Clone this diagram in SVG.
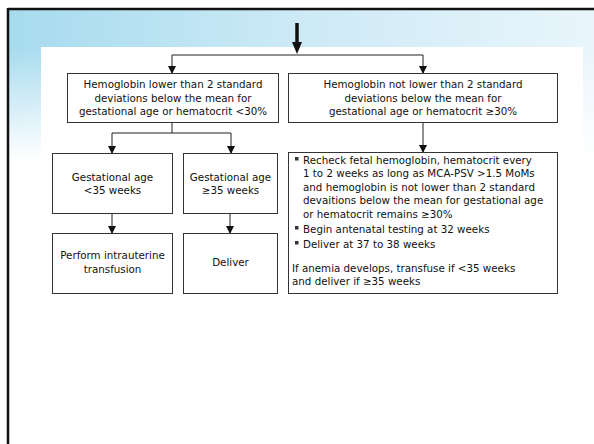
<svg xmlns="http://www.w3.org/2000/svg" width="594" height="444" viewBox="0 0 594 444">
<defs>
<linearGradient id="bgH" x1="0" y1="0" x2="1" y2="0">
<stop offset="0" stop-color="#a6dbee"/>
<stop offset="0.5" stop-color="#cdeaf6"/>
<stop offset="1" stop-color="#e9f5fb"/>
</linearGradient>
<linearGradient id="fadeV" x1="0" y1="0" x2="0" y2="1">
<stop offset="0" stop-color="#ffffff" stop-opacity="0"/>
<stop offset="1" stop-color="#ffffff" stop-opacity="1"/>
</linearGradient>
<marker id="ah" markerWidth="8" markerHeight="8" refX="7" refY="4" orient="auto" markerUnits="userSpaceOnUse">
<path d="M0,0 L8,4 L0,8 Z" fill="#111"/>
</marker>
<style>
.box{fill:#fff;stroke:#333;stroke-width:1}
.t{font-family:"DejaVu Sans","Liberation Sans",sans-serif;font-size:10.3px;fill:#111}
.c{text-anchor:middle}
.ln{fill:none;stroke:#222;stroke-width:1}
</style>
</defs>
<rect x="0" y="0" width="594" height="444" fill="#fff"/>
<rect x="9" y="10" width="585" height="150" fill="url(#bgH)"/>
<rect x="9" y="47" width="585" height="113" fill="url(#fadeV)"/>
<rect x="41" y="47" width="542" height="397" fill="#fff"/>
<line x1="8" y1="9" x2="594" y2="9" stroke="#111" stroke-width="2.5"/>
<line x1="8" y1="8" x2="8" y2="444" stroke="#111" stroke-width="2.5"/>

<g id="connectors">
<path d="M297,23 V44" stroke="#111" stroke-width="3.5" fill="none"/>
<path d="M292,42 L302,42 L297,54 Z" fill="#111"/>
<path class="ln" d="M172,55 H423"/>
<path class="ln" d="M172,55 V73" marker-end="url(#ah)"/>
<path class="ln" d="M423,55 V73" marker-end="url(#ah)"/>
<path class="ln" d="M172,122 V133 M112,133 H231"/>
<path class="ln" d="M112,133 V153" marker-end="url(#ah)"/>
<path class="ln" d="M231,133 V153" marker-end="url(#ah)"/>
<path class="ln" d="M112,213 V233" marker-end="url(#ah)"/>
<path class="ln" d="M230,213 V233" marker-end="url(#ah)"/>
<path class="ln" d="M423,122 V152" marker-end="url(#ah)"/>
</g>

<g id="n1">
<rect class="box" x="67.5" y="73.5" width="211" height="49"/>
<text class="t c" x="173" y="88">Hemoglobin lower than 2 standard</text>
<text class="t c" x="173" y="101.5">deviations below the mean for</text>
<text class="t c" x="173" y="115">gestational age or hematocrit &lt;30%</text>
</g>
<g id="n2">
<rect class="box" x="288.5" y="73.5" width="269" height="49"/>
<text class="t c" x="423" y="88">Hemoglobin not lower than 2 standard</text>
<text class="t c" x="423" y="101.5">deviations below the mean for</text>
<text class="t c" x="423" y="115">gestational age or hematocrit ≥30%</text>
</g>
<g id="n3">
<rect class="box" x="52.5" y="153.5" width="120" height="60"/>
<text class="t c" x="112.5" y="180.5">Gestational age</text>
<text class="t c" x="112.5" y="194">&lt;35 weeks</text>
</g>
<g id="n4">
<rect class="box" x="183.5" y="153.5" width="94" height="60"/>
<text class="t c" x="230.5" y="180.5">Gestational age</text>
<text class="t c" x="230.5" y="194">≥35 weeks</text>
</g>
<g id="n5">
<rect class="box" x="52.5" y="233.5" width="120" height="60"/>
<text class="t c" x="112.5" y="259">Perform intrauterine</text>
<text class="t c" x="112.5" y="272.5">transfusion</text>
</g>
<g id="n6">
<rect class="box" x="183.5" y="233.5" width="94" height="60"/>
<text class="t c" x="230.5" y="266">Deliver</text>
</g>
<g id="n7">
<rect class="box" x="288.5" y="152.5" width="269" height="141"/>
<rect x="295" y="157" width="3.5" height="3.5" fill="#333"/>
<rect x="295" y="226" width="3.5" height="3.5" fill="#333"/>
<rect x="295" y="241" width="3.5" height="3.5" fill="#333"/>
<text class="t" x="303" y="163.5">Recheck fetal hemoglobin, hematocrit every</text>
<text class="t" x="303" y="177">1 to 2 weeks as long as MCA-PSV &gt;1.5 MoMs</text>
<text class="t" x="303" y="190.5">and hemoglobin is not lower than 2 standard</text>
<text class="t" x="303" y="204">devaitions below the mean for gestational age</text>
<text class="t" x="303" y="217.5">or hematocrit remains ≥30%</text>
<text class="t" x="303" y="232.5">Begin antenatal testing at 32 weeks</text>
<text class="t" x="303" y="247.5">Deliver at 37 to 38 weeks</text>
<text class="t" x="292" y="271.5">If anemia develops, transfuse if &lt;35 weeks</text>
<text class="t" x="292" y="285">and deliver if ≥35 weeks</text>
</g>
</svg>
